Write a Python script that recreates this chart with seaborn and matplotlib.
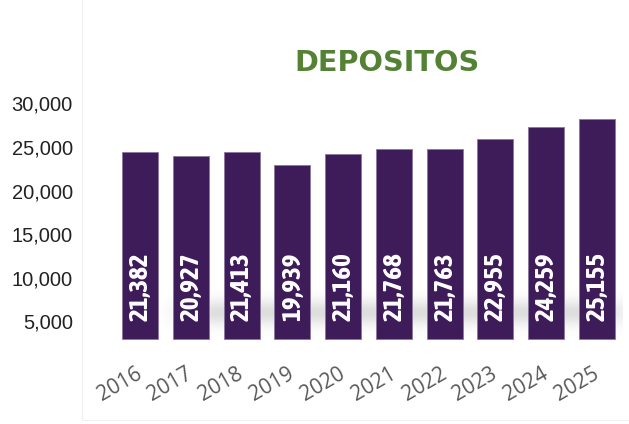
import numpy as np
import pandas as pd
import matplotlib
matplotlib.use("Agg")
import matplotlib.pyplot as plt
import matplotlib.transforms as mtransforms
from matplotlib import font_manager
import seaborn as sns

years = ["2016", "2017", "2018", "2019", "2020", "2021", "2022", "2023", "2024", "2025"]
depositos = [21382, 20927, 21413, 19939, 21160, 21768, 21763, 22955, 24259, 25155]
value_labels = ["21,382", "20,927", "21,413", "19,939", "21,160", "21,768", "21,763", "22,955", "24,259", "25,155"]
y_ticks = [5000, 10000, 15000, 20000, 25000, 30000]
y_tick_labels = ["5,000", "10,000", "15,000", "20,000", "25,000", "30,000"]
BASE = 3000
title = "DEPOSITOS"

sns.set_theme(style="white")
plt.rcParams["font.family"] = ["Liberation Sans", "DejaVu Sans"]

# pick a narrow bold family if one is installed
label_font = "Liberation Sans"
label_stretch = "normal"
for f in font_manager.fontManager.ttflist:
    n = f.name.lower()
    if ("narrow" in n or "condensed" in n) and f.weight in (700, "bold"):
        label_font = f.name
        break
else:
    for f in font_manager.fontManager.ttflist:
        if f.name == "DejaVu Sans" and "condensed" in str(f.stretch) and f.weight in (700, "bold"):
            label_font = "DejaVu Sans"
            label_stretch = "condensed"
            break

df = pd.DataFrame({"year": years, "value": depositos})

fig = plt.figure(figsize=(6.29, 4.24), dpi=100)
ax = fig.add_axes([0.1822, 0.1462, 0.8073, 0.7123])

sns.barplot(data=df, x="year", y="value", color="#3E1B59", saturation=1,
            width=0.71, edgecolor="#8a76a0", linewidth=0.6, ax=ax, zorder=3)
for p in ax.patches:
    p.set_y(BASE)

# soft shadow behind the bar bases
nx, ny = 400, 120
xs = np.linspace(0, 1, nx)
ys = np.linspace(0, 1, ny)
X, Y = np.meshgrid(xs, ys)
vert = np.exp(-((Y - 0.5) ** 2) / (2 * 0.17 ** 2))
horiz = np.clip((X - 0.0) / 0.12, 0, 1) * np.clip((1.0 - X) / 0.06, 0, 1)
alpha = 0.26 * vert * horiz
img = np.zeros((ny, nx, 4))
img[..., 0:3] = 0.5
img[..., 3] = alpha
ax.imshow(img, extent=(0.35, 9.75, BASE, BASE + 6000), origin="lower",
          aspect="auto", zorder=1, interpolation="bilinear")

ax.set_xlim(-0.5, 9.5)
ax.set_ylim(344, 34977)
ax.set_yticks(y_ticks)
ax.set_yticklabels(y_tick_labels, fontsize=14.5, color="#222222",
                   fontfamily="Liberation Sans")
ax.tick_params(axis="y", length=0, pad=30)
ax.tick_params(axis="x", length=0, pad=1)
ax.set_xticks(range(len(years)))
ax.set_xticklabels(years, rotation=30, ha="right", va="top",
                   rotation_mode="anchor", fontsize=15, color="#595959",
                   fontfamily="Open Sans")
offset = mtransforms.ScaledTranslation(-5 / 100, 0, fig.dpi_scale_trans)
for lab in ax.get_xticklabels():
    lab.set_transform(lab.get_transform() + offset)
ax.set_xlabel("")
ax.set_ylabel("")
for s in ax.spines.values():
    s.set_visible(False)

# size value labels so that they span about 69 px, as in the reference
renderer = fig.canvas.get_renderer()
probe = fig.text(0, 0, value_labels[0], fontsize=20, fontweight="bold",
                 fontfamily=label_font, fontstretch=label_stretch)
w = probe.get_window_extent(renderer).width
probe.remove()
label_size = min(19.5, 20 * 69 / w)

for i, lab in enumerate(value_labels):
    ax.annotate(lab, xy=(i, BASE), xytext=(0, 13), textcoords="offset points",
                rotation=90, ha="center", va="bottom", color="white",
                fontsize=label_size, fontweight="bold", fontfamily=label_font,
                fontstretch=label_stretch, zorder=5)

fig.text(387 / 629, 1 - 63 / 424, title, ha="center", va="center",
         fontsize=20.7, fontweight="bold", color="#548235",
         fontfamily="DejaVu Sans")

# faint chart-area border lines
fig.add_artist(plt.Line2D([82 / 629, 82 / 629], [0.01, 1.0], color="#f0f0f0", lw=0.8))
fig.add_artist(plt.Line2D([82 / 629, 1.0], [1 - 420 / 424, 1 - 420 / 424], color="#f0f0f0", lw=0.8))

fig.savefig("out.png", dpi=100)
